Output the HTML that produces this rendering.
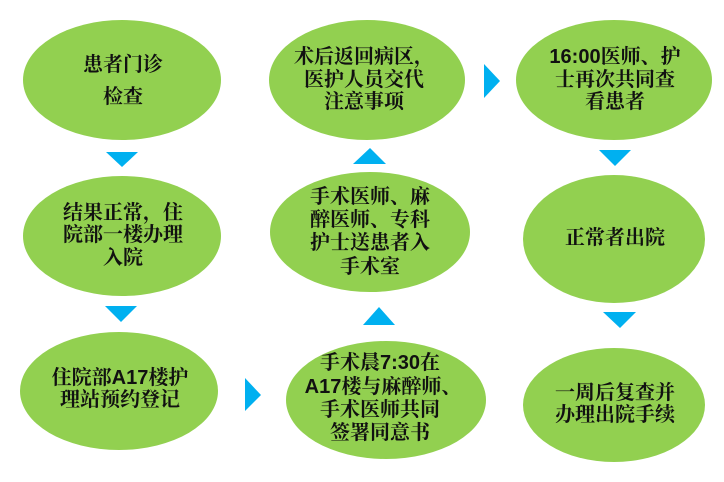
<!DOCTYPE html>
<html><head><meta charset="utf-8"><style>
html,body{margin:0;padding:0;background:#fff;}
svg{display:block;}
text{font-family:"Liberation Sans","Noto Serif CJK SC","Noto Sans CJK SC",serif;font-size:20px;font-weight:bold;fill:#111;text-anchor:middle;dominant-baseline:central;}
</style></head><body>
<svg width="724" height="482" viewBox="0 0 724 482" xmlns="http://www.w3.org/2000/svg">
<g fill="#92D050">
<ellipse cx="122" cy="80" rx="99" ry="60"/>
<ellipse cx="122" cy="236" rx="99" ry="60"/>
<ellipse cx="119" cy="391" rx="99" ry="59"/>
<ellipse cx="367" cy="80" rx="98" ry="60"/>
<ellipse cx="370" cy="232" rx="100" ry="60"/>
<ellipse cx="386" cy="400" rx="100" ry="59"/>
<ellipse cx="614" cy="80" rx="98" ry="60"/>
<ellipse cx="614" cy="239" rx="91" ry="64"/>
<ellipse cx="614" cy="405" rx="91" ry="57"/>
</g>
<g fill="#00B0F0">
<polygon points="106,152 138,152 122,167"/>
<polygon points="105,306 137,306 121,322"/>
<polygon points="245,378 261,395 245,411"/>
<polygon points="363,325 395,325 379,307"/>
<polygon points="353,164 386,164 370,148"/>
<polygon points="484,64 500,81 484,98"/>
<polygon points="599,150 631,150 615,166"/>
<polygon points="603,312 636,312 620,328"/>
</g>
<text x="123" y="65">患者门诊</text>
<text x="123" y="97">检查</text>
<text x="123" y="213">结果正常，住</text>
<text x="123" y="235">院部一楼办理</text>
<text x="123" y="258">入院</text>
<text x="120" y="378">住院部A17楼护</text>
<text x="120" y="400">理站预约登记</text>
<text x="364" y="57">术后返回病区，</text>
<text x="364" y="80">医护人员交代</text>
<text x="364" y="102">注意事项</text>
<text x="370" y="197">手术医师、麻</text>
<text x="370" y="220">醉医师、专科</text>
<text x="370" y="243">护士送患者入</text>
<text x="370" y="267">手术室</text>
<text x="380" y="363">手术晨7:30在</text>
<text x="383" y="387">A17楼与麻醉师、</text>
<text x="380" y="410">手术医师共同</text>
<text x="380" y="433">签署同意书</text>
<text x="615" y="57">16:00医师、护</text>
<text x="615" y="80">士再次共同查</text>
<text x="615" y="102">看患者</text>
<text x="615" y="238">正常者出院</text>
<text x="615" y="393">一周后复查并</text>
<text x="615" y="415">办理出院手续</text>
</svg>
</body></html>
